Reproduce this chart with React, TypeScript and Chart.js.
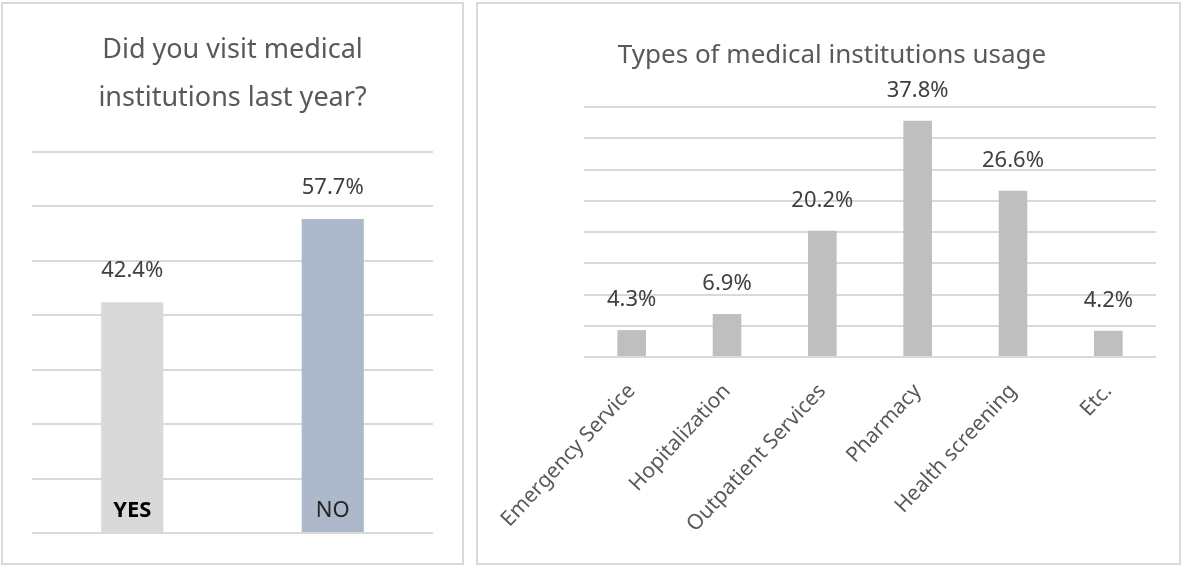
import React, { useEffect, useRef } from "react";
import { Chart, registerables } from "chart.js";

Chart.register(...registerables);

const FONT = "'Noto Sans', 'Open Sans', sans-serif";

// Left chart data
const visitCategories = ["YES", "NO"];
const visitValues = [42.4, 57.7];
const visitColors = ["#d9d9d9", "#adb9ca"];
const visitTitle = ["Did you visit medical", "institutions last year?"];
const visitAxisMax = 70;
const visitAxisStep = 10;

// Right chart data
const typeCategories = [
  "Emergency Service",
  "Hopitalization",
  "Outpatient Services",
  "Pharmacy",
  "Health screening",
  "Etc.",
];
const typeValues = [4.3, 6.9, 20.2, 37.8, 26.6, 4.2];
const typeColor = "#bfbfbf";
const typeTitle = "Types of medical institutions usage";
const typeAxisMax = 40;
const typeAxisStep = 5;

const GRID = "#d9d9d9";

function valueLabelPlugin(offset: number, size: number, color: string) {
  return {
    id: "valueLabels",
    afterDatasetsDraw(chart: any) {
      const ctx = chart.ctx;
      const meta = chart.getDatasetMeta(0);
      const data = chart.data.datasets[0].data as number[];
      ctx.save();
      ctx.font = `${size}px ${FONT}`;
      ctx.fillStyle = color;
      ctx.textAlign = "center";
      ctx.textBaseline = "middle";
      meta.data.forEach((el: any, i: number) => {
        ctx.fillText(`${data[i].toFixed(1)}%`, el.x, el.y - offset);
      });
      ctx.restore();
    },
  };
}

const innerCategoryPlugin = {
  id: "innerCategory",
  afterDatasetsDraw(chart: any) {
    const ctx = chart.ctx;
    const meta = chart.getDatasetMeta(0);
    const labels = chart.data.labels as string[];
    const bottom = chart.chartArea.bottom;
    ctx.save();
    ctx.textAlign = "center";
    ctx.textBaseline = "middle";
    meta.data.forEach((el: any, i: number) => {
      ctx.font = `${i === 0 ? "bold " : ""}22px ${FONT}`;
      ctx.fillStyle = i === 0 ? "#000000" : "#262626";
      ctx.fillText(labels[i], el.x, bottom - 22);
    });
    ctx.restore();
  },
};

function VisitChart() {
  const ref = useRef<HTMLCanvasElement>(null);
  useEffect(() => {
    const chart = new Chart(ref.current as HTMLCanvasElement, {
      type: "bar",
      data: {
        labels: visitCategories,
        datasets: [
          {
            data: visitValues,
            backgroundColor: visitColors,
            barPercentage: 0.31,
            categoryPercentage: 1,
          },
        ],
      },
      options: {
        animation: false,
        responsive: false,
        devicePixelRatio: 1,
        layout: { padding: { left: 29, right: 31, top: 0, bottom: 31 } },
        plugins: {
          legend: { display: false },
          tooltip: { enabled: false },
          title: {
            display: true,
            text: visitTitle,
            color: "#595959",
            font: { family: FONT, size: 27, weight: "normal", lineHeight: 48 / 27 },
            padding: { top: 23, bottom: 30 },
          },
        },
        scales: {
          x: { display: false },
          y: {
            min: 0,
            max: visitAxisMax,
            ticks: { display: false, stepSize: visitAxisStep },
            border: { display: false },
            grid: { color: GRID, lineWidth: 2, drawTicks: false },
          },
        },
      },
      plugins: [valueLabelPlugin(31, 22, "#404040"), innerCategoryPlugin],
    });
    return () => chart.destroy();
  }, []);
  return (
    <canvas
      ref={ref}
      width={461}
      height={561}
      style={{ position: "absolute", left: 3, top: 3, width: 461, height: 561 }}
    />
  );
}

function TypeChart() {
  const ref = useRef<HTMLCanvasElement>(null);
  useEffect(() => {
    const chart = new Chart(ref.current as HTMLCanvasElement, {
      type: "bar",
      data: {
        labels: typeCategories,
        datasets: [
          {
            data: typeValues,
            backgroundColor: typeColor,
            barPercentage: 0.3,
            categoryPercentage: 1,
          },
        ],
      },
      options: {
        animation: false,
        responsive: false,
        devicePixelRatio: 1,
        layout: { padding: { left: 30, right: 24, top: 0, bottom: 0 } },
        plugins: {
          legend: { display: false },
          tooltip: { enabled: false },
          title: {
            display: true,
            text: typeTitle,
            color: "#595959",
            font: { family: FONT, size: 26, weight: "normal", lineHeight: 1.2 },
            padding: { top: 37.4, bottom: 35.4 },
          },
        },
        scales: {
          x: {
            border: { display: false },
            grid: { display: false, drawTicks: false },
            ticks: {
              color: "#595959",
              font: { family: FONT, size: 21 },
              maxRotation: 47,
              minRotation: 47,
              padding: 22,
              autoSkip: false,
            },
            afterFit(scale: any) {
              scale.height = 207;
              scale.paddingLeft = 0;
              scale.paddingRight = 0;
            },
          },
          y: {
            min: 0,
            max: typeAxisMax,
            ticks: { display: false, stepSize: typeAxisStep },
            border: { display: false },
            grid: { color: GRID, lineWidth: 2, drawTicks: false },
            afterFit(scale: any) {
              scale.width = 76;
            },
          },
        },
      },
      plugins: [valueLabelPlugin(30, 22, "#404040")],
    });
    return () => chart.destroy();
  }, []);
  return (
    <canvas
      ref={ref}
      width={702}
      height={561}
      style={{ position: "absolute", left: 478, top: 3, width: 702, height: 561 }}
    />
  );
}

export default function App() {
  const panel = (left: number, width: number): React.CSSProperties => ({
    position: "absolute",
    left,
    top: 2,
    width,
    height: 563,
    boxSizing: "border-box",
    border: "2px solid #d9d9d9",
    background: "transparent",
  });
  return (
    <div style={{ position: "relative", width: 1187, height: 565, background: "#ffffff", overflow: "hidden" }}>
      <style>{`body{margin:0;background:#fff;}`}</style>
      <div style={panel(1, 463)} />
      <div style={panel(476, 705)} />
      <VisitChart />
      <TypeChart />
    </div>
  );
}
